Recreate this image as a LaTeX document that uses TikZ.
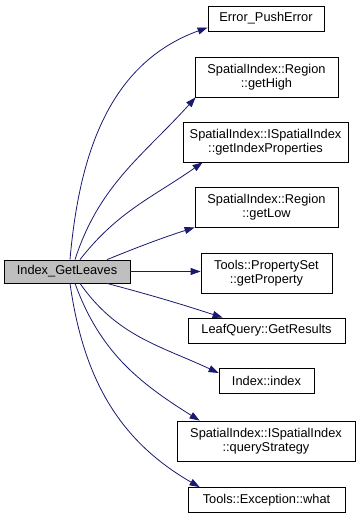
\documentclass[tikz,border=0pt]{standalone}
\usepackage{fontspec}
\setmainfont{Liberation Sans}
\usetikzlibrary{arrows.meta}
\definecolor{callblue}{HTML}{191970}
\definecolor{rootgray}{HTML}{BFBFBF}
\tikzset{
  fn/.style={draw=black, line width=0.8pt, fill=white, align=center,
    inner xsep=5pt, inner ysep=2pt, minimum height=25pt,
    font=\fontsize{12.8}{14}\selectfont},
  fntwo/.style={fn, minimum height=40pt},
  root/.style={fn, fill=rootgray, minimum height=23pt},
  call/.style={draw=callblue, line width=0.8pt,
    -{Triangle[length=10pt,width=7pt]}, fill=none},
}

\begin{document}
\begin{tikzpicture}[x=1pt,y=1pt]
  \useasboundingbox (0,0) rectangle (361,519);
  \node[root, minimum width=126] (leaves) at (67,247.5) {Index\_GetLeaves};
  \node[fn, minimum width=116] (err) at (266,500.5) {Error\_PushError};
  \node[fntwo, minimum width=143] (high) at (266.5,442) {SpatialIndex::Region\\::getHigh};
  \node[fntwo, minimum width=165] (props) at (265.5,377) {SpatialIndex::ISpatialIndex\\::getIndexProperties};
  \node[fntwo, minimum width=143] (low) at (266.5,312) {SpatialIndex::Region\\::getLow};
  \node[fntwo, minimum width=131] (getprop) at (266.5,246) {Tools::PropertySet\\::getProperty};
  \node[fn, minimum width=157] (results) at (266.5,188.5) {LeafQuery::GetResults};
  \node[fn, minimum width=95] (idx) at (266.5,138) {Index::index};
  \node[fntwo, minimum width=178] (strategy) at (266,78) {SpatialIndex::ISpatialIndex\\::queryStrategy};
  \node[fn, minimum width=157] (what) at (266.5,19) {Tools::Exception::what};

  % calls above the root
  \draw[call] ([xshift=3]leaves.north) to[out=85,in=200] ([yshift=-9]err.west);
  \draw[call] ([xshift=8]leaves.north) to[out=72,in=228] ([xshift=1]high.south west);
  \draw[call] ([xshift=13]leaves.north) to[out=52,in=215] ([xshift=20]props.south west);
  \draw[call] ([xshift=40]leaves.north) to[out=22,in=198] (low.south west);
  \draw[call] (leaves.east) -- (leaves.east -| getprop.west);
  % calls below the root
  \draw[call] ([xshift=40]leaves.south) to[out=-15,in=162] ([xshift=35]results.north west);
  \draw[call] ([xshift=13]leaves.south) to[out=-55,in=155] ([yshift=8]idx.west);
  \draw[call] ([xshift=8]leaves.south) to[out=-70,in=148] ([xshift=23]strategy.north west);
  \draw[call] ([xshift=3]leaves.south) to[out=-82,in=150] ([xshift=12]what.north west);
\end{tikzpicture}
\end{document}
